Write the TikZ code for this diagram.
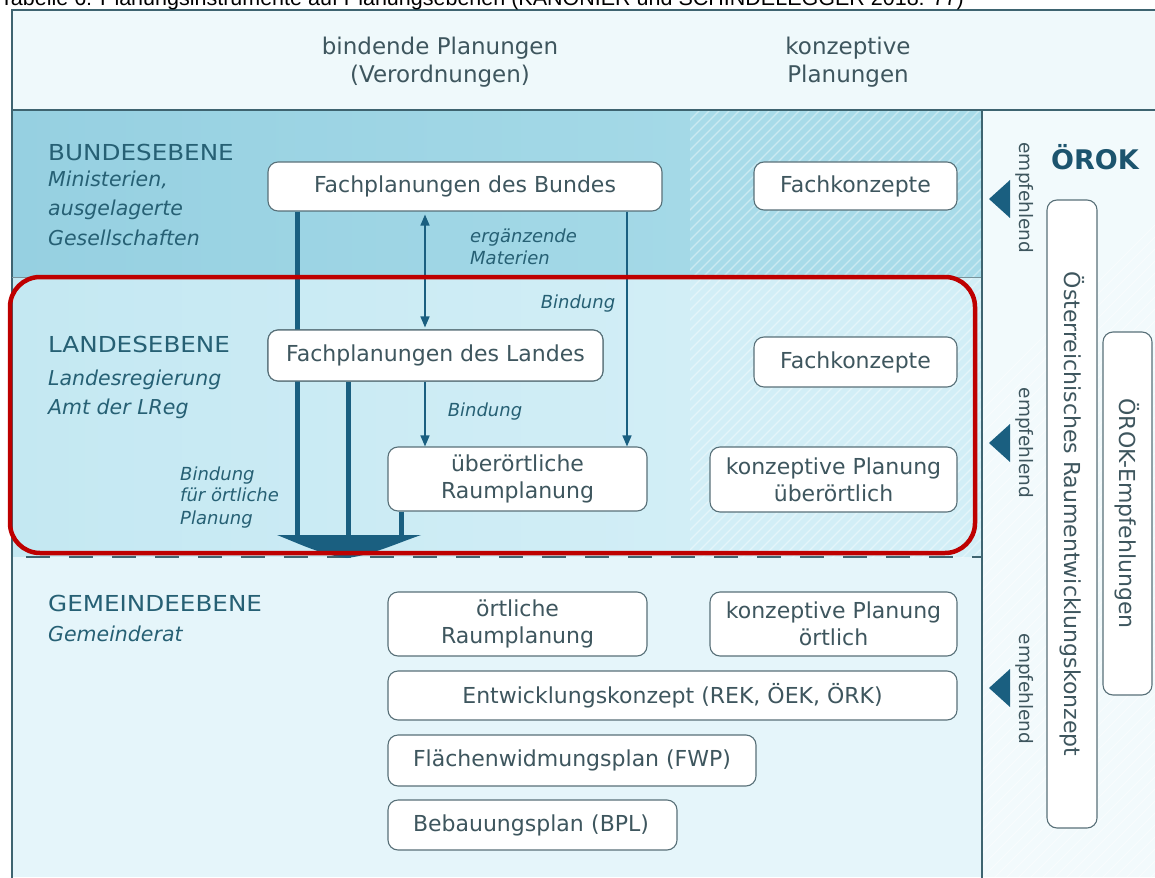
\documentclass[tikz,border=0pt]{standalone}
\usepackage{fontspec}
\setmainfont{DejaVu Sans}
\newfontfamily\capfont{Liberation Sans}
\usetikzlibrary{arrows.meta}
\definecolor{txt}{RGB}{38,96,116}
\definecolor{boxtxt}{RGB}{62,86,94}
\definecolor{arr}{RGB}{26,95,128}
\definecolor{bundL}{RGB}{150,208,225}
\definecolor{bundR}{RGB}{164,217,231}
\definecolor{bundH}{RGB}{168,219,233}
\definecolor{landL}{RGB}{196,232,242}
\definecolor{landR}{RGB}{210,238,246}
\definecolor{landH}{RGB}{210,238,246}
\definecolor{gem}{RGB}{229,245,250}
\definecolor{head}{RGB}{239,249,251}
\definecolor{rcol}{RGB}{242,250,252}
\definecolor{frame}{RGB}{62,100,112}
\definecolor{boxline}{RGB}{88,112,120}
\definecolor{redline}{RGB}{190,0,0}
\definecolor{orok}{RGB}{28,84,110}
\newcommand{\widetxt}[1]{\scalebox{1.12}[1]{#1}}
\tikzset{
  box/.style={draw=boxline, line width=1.1pt, fill=white, rounded corners=10pt,
    font=\fontsize{22}{27}\selectfont, text=boxtxt, align=center, inner sep=0pt},
  lvl/.style={font=\fontsize{22}{22}\selectfont, text=txt, anchor=base west, inner sep=0pt},
  lvlit/.style={font=\fontsize{20.5}{20.5}\selectfont\itshape, text=txt, anchor=base west, inner sep=0pt},
  hdr/.style={font=\fontsize{23}{23}\selectfont, text=boxtxt, anchor=base, inner sep=0pt},
  smallit/.style={font=\fontsize{18}{18}\selectfont\itshape, text=txt, inner sep=0pt},
  emp/.style={font=\fontsize{18.5}{18.5}\selectfont, text=boxtxt, rotate=-90, inner sep=0pt},
  vtext/.style={font=\fontsize{22}{22}\selectfont, text=boxtxt, rotate=-90, inner sep=0pt},
  thickarr/.style={draw=arr, line width=5pt},
  thinarr/.style={draw=arr, line width=1.5pt, -{Triangle[length=11pt,width=9pt]}},
  dblarr/.style={draw=arr, line width=1.5pt, {Triangle[length=11pt,width=9pt]}-{Triangle[length=11pt,width=9pt]}},
  tri/.style={fill=arr},
  hatch/.style={white, opacity=0.4, line width=1.3pt}
}
\begin{document}
\begin{tikzpicture}[x=1pt,y=-1pt]
\useasboundingbox (0,0) rectangle (1155,877);
% backgrounds
\fill[head] (12,10) rectangle (1160,110);
\shade[left color=bundL, right color=bundR] (12,110) rectangle (690,277);
\fill[bundH] (690,110) rectangle (982,277);
\shade[left color=landL, right color=landR] (12,277) rectangle (690,557);
\fill[landH] (690,277) rectangle (982,557);
\fill[gem] (12,557) rectangle (982,877);
\fill[rcol] (982,110) rectangle (1160,877);
% hatching
\begin{scope}
\clip (690,110) rectangle (982,557);
\foreach \a in {230,240,...,990} \draw[hatch] (\a,560) -- (\a+460,100);
\end{scope}
\begin{scope}
\clip (982,110) rectangle (1160,877);
\foreach \a in {500,512,...,1160} \draw[white, opacity=0.5, line width=1pt] (\a,880) -- (\a+780,100);
\end{scope}
% frame lines
\draw[frame, line width=1.6pt] (12,880) -- (12,10) -- (1160,10);
\draw[frame, line width=1.6pt] (12,110) -- (1160,110);
\draw[frame!70, line width=1pt] (12,277) -- (982,277);
\draw[frame, line width=1.6pt] (982,110) -- (982,880);
\draw[frame, line width=2.2pt, dash pattern=on 24pt off 19pt, dash phase=-14pt] (12,557) -- (982,557);
% caption
\node[font=\capfont\fontsize{21.5}{21.5}\selectfont, anchor=base west, inner sep=0pt] (cap) at (0,6) {Tabelle 6: Planungsinstrumente auf Planungsebenen (KANONIER und SCHINDELEGGER 2018: 77)};
% header
\node[hdr] (h1) at (440,55) {bindende Planungen};
\node[hdr] (h2) at (440,83) {(Verordnungen)};
\node[hdr] (h3) at (848,55) {konzeptive};
\node[hdr] (h4) at (848,83) {Planungen};
% level labels
\node[lvl] (lb) at (48,161) {\widetxt{BUNDESEBENE}};
\node[lvlit] (lb1) at (48,187) {Ministerien,};
\node[lvlit] (lb2) at (48,216) {ausgelagerte};
\node[lvlit] (lb3) at (48,245) {Gesellschaften};
\node[lvl] (ll) at (48,352) {\widetxt{LANDESEBENE}};
\node[lvlit] (ll1) at (48,385) {Landesregierung};
\node[lvlit] (ll2) at (48,414) {Amt der LReg};
\node[lvl] (lg) at (48,611) {\widetxt{GEMEINDEEBENE}};
\node[lvlit] (lg1) at (48,641) {Gemeinderat};
% connector helper coordinates
\coordinate (x297) at (297,541);
\coordinate (x348) at (348,541);
\coordinate (x401) at (401,541);
\coordinate (x425) at (425,0);
\coordinate (x627) at (627,0);
\coordinate (tip) at (347,558);
% boxes
\node[box, minimum width=394pt, minimum height=49pt] (bund) at (465,186.5) {Fachplanungen des Bundes};
\node[box, minimum width=335pt, minimum height=51pt] (land) at (435.5,355.5) {Fachplanungen des Landes};
% thick binding lines
\draw[thickarr] (bund.south -| x297) -- (x297);
\draw[thickarr] (land.south -| x348) -- (x348);
\node[box, minimum width=259pt, minimum height=64pt] (ueb) at (517.5,479) {überörtliche\\Raumplanung};
\draw[thickarr] (ueb.south -| x401) -- (x401);
\fill[arr] (277,535) -- (421,535) .. controls (395,544) and (372,555) .. (tip) .. controls (322,555) and (300,544) .. (277,535) -- cycle;
% redraw land box over bund thick line
\node[box, minimum width=335pt, minimum height=51pt] at (land) {Fachplanungen des Landes};
% thin arrows
\draw[dblarr, shorten <=3pt, shorten >=2pt] (bund.south -| x425) -- (land.north -| x425);
\draw[thinarr] (bund.south -| x627) -- (ueb.north -| x627);
\draw[thinarr] (land.south -| x425) -- (ueb.north -| x425);
% arrow labels
\node[smallit, anchor=base west] (erg1) at (470,242) {ergänzende};
\node[smallit, anchor=base west] (erg2) at (470,264) {Materien};
\node[smallit, anchor=base] (bd1) at (578,308) {Bindung};
\node[smallit, anchor=base] (bd2) at (485,416) {Bindung};
\node[smallit, anchor=base west] (bo1) at (180,480) {Bindung};
\node[smallit, anchor=base west] (bo2) at (180,501) {für örtliche};
\node[smallit, anchor=base west] (bo3) at (180,524) {Planung};
% conceptual boxes
\node[box, minimum width=203pt, minimum height=48pt] (fkb) at (855.5,186) {Fachkonzepte};
\node[box, minimum width=203pt, minimum height=50pt] (fkl) at (855.5,362) {Fachkonzepte};
\node[box, minimum width=247pt, minimum height=65pt] (kpu) at (833.5,479.5) {konzeptive Planung\\überörtlich};
\node[box, minimum width=259pt, minimum height=64pt] (oert) at (517.5,624) {örtliche\\Raumplanung};
\node[box, minimum width=247pt, minimum height=64pt] (kpo) at (833.5,624) {konzeptive Planung\\örtlich};
\node[box, minimum width=569pt, minimum height=49pt] (ek) at (672.5,695.5) {Entwicklungskonzept (REK, ÖEK, ÖRK)};
\node[box, minimum width=368pt, minimum height=51pt] (fwp) at (572,760.5) {Flächenwidmungsplan (FWP)};
\node[box, minimum height=50pt, inner xsep=25pt, text width=239pt, align=left] (bpl) at (532.5,825) {Bebauungsplan (BPL)};
% red highlight
\draw[redline, line width=4.5pt, rounded corners=30pt] (10,277) rectangle (975,553);
% right column
\node[font=\fontsize{27}{27}\selectfont\bfseries, text=orok, inner sep=0pt] (orok) at (1095,157) {ÖROK};
\node[box, minimum width=50pt, minimum height=628pt] (roek) at (1072,514) {};
\node[vtext] (roekt) at (roek.center) {Österreichisches Raumentwicklungskonzept};
\node[box, minimum width=49pt, minimum height=363pt] (oemp) at (1127.5,513.5) {};
\node[vtext] (oempt) at (oemp.center) {ÖROK-Empfehlungen};
\node[emp] (e1) at (1025,198) {empfehlend};
\node[emp] (e2) at (1025,443) {empfehlend};
\node[emp] (e3) at (1025,689) {empfehlend};
\fill[tri] (989,199) -- (1010,180) -- (1010,218) -- cycle;
\fill[tri] (989,443) -- (1010,424) -- (1010,462) -- cycle;
\fill[tri] (989,688) -- (1010,669) -- (1010,707) -- cycle;
\end{tikzpicture}
\end{document}
